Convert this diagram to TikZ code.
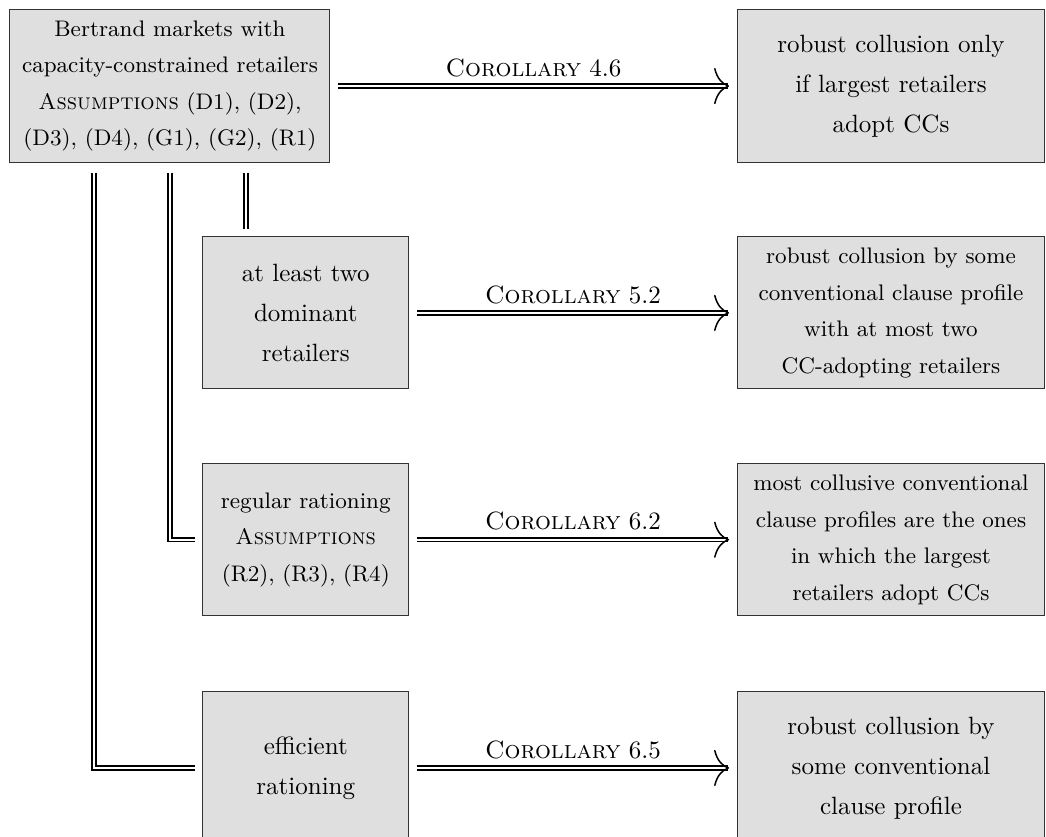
\documentclass[tikz,border=0pt]{standalone}
\usetikzlibrary{arrows.meta}
\linespread{1.33}

\begin{document}
\begin{tikzpicture}[
                    box/.style={draw=black!80, fill=gray!25, align=center, minimum height=2.14cm},
                    wide/.style={box, minimum width=4.33cm},
                    narrow/.style={box, minimum width=2.9cm},
                    link/.style={draw, line width=0.7pt, double, double distance=0.8pt},
                    tip/.style={draw=white, line width=0.8pt, -{Computer Modern Rightarrow[length=6pt,width=14.5pt,line width=0.6pt,color=black]}}
                    ]

                    \useasboundingbox (0,0) rectangle (14.71,-11.77);

                    \node[box, minimum width=4.5cm, font=\small] (hyp) at (2.39,-1.21)
                        {Bertrand markets with\\ capacity-constrained retailers\\ \textsc{Assumptions} (D1), (D2),\\ (D3), (D4), (G1), (G2), (R1)};
                    \node[wide] (res1) at (12.53,-1.21) {robust collusion only\\ if largest retailers\\ adopt CCs};

                    \node[narrow] (dom) at (4.30,-4.40) {at least two\\ dominant\\ retailers};
                    \node[wide, font=\small] (res2) at (12.53,-4.40) {robust collusion by some\\ conventional clause profile\\ with at most two\\ CC-adopting retailers};

                    \node[narrow, font=\small] (reg) at (4.30,-7.59) {regular rationing\\ \textsc{Assumptions}\\ (R2), (R3), (R4)};
                    \node[wide, font=\small] (res3) at (12.53,-7.59) {most collusive conventional\\ clause profiles are the ones\\ in which the largest\\ retailers adopt CCs};

                    \node[narrow] (eff) at (4.30,-10.80) {efficient\\ rationing};
                    \node[wide] (res4) at (12.53,-10.80) {robust collusion by\\ some conventional\\ clause profile};

                    \foreach \i/\j/\c in {hyp/res1/4.6,dom/res2/5.2,reg/res3/6.2,eff/res4/6.5}{
                        \draw[link, shorten <=3pt, shorten >=3.6pt] (\i) -- node[above] {\textsc{Corollary} \c} (\j);
                        \draw[tip] ([xshift=-12pt]\j.west) -- ([xshift=-3pt]\j.west);
                    }

                    \draw[link, shorten <=4pt, shorten >=3pt] ([xshift=1.07cm]hyp.south) -- ([xshift=1.07cm]hyp.south |- dom.north);
                    \draw[link, shorten <=4pt, shorten >=3pt] (hyp.south) |- (reg.west);
                    \draw[link, shorten <=4pt, shorten >=3pt] ([xshift=-1.07cm]hyp.south) |- (eff.west);

                \end{tikzpicture}
\end{document}
